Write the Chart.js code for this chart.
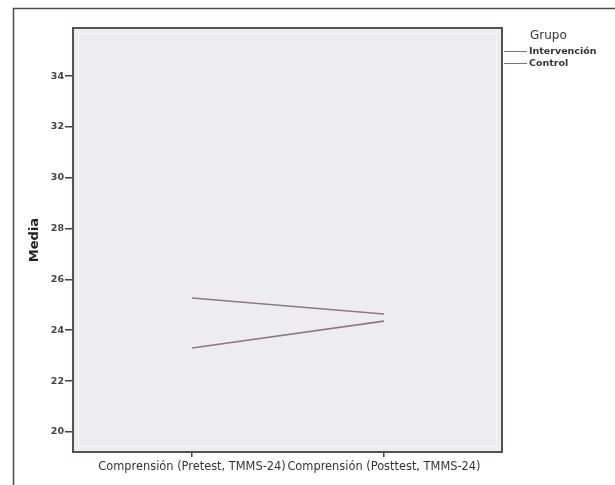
<!DOCTYPE html>
<html>
<head>
<meta charset="utf-8">
<style>
  html, body { margin: 0; padding: 0; background: #fff; }
  canvas { display: block; }
</style>
<script src="https://cdn.jsdelivr.net/npm/chart.js@4"></script>
</head>
<body>
<canvas id="chart" width="615" height="485"></canvas>
<script>
// Categories (x axis) and group means
const categories = ["Comprensión (Pretest, TMMS-24)", "Comprensión (Posttest, TMMS-24)"];
const intervencion = [25.27, 24.64];
const control = [23.30, 24.36];
const seriesNames = ["Intervención", "Control"];
const yTicks = [20, 22, 24, 26, 28, 30, 32, 34];

const LINE_COLOR = "#8c7b79";
const FONT = "'DejaVu Sans', sans-serif";

// Frame, plot background and legend drawn around the chart area
const framePlugin = {
    id: "frame",
    beforeDraw(chart) {
        const ctx = chart.ctx;
        const a = chart.chartArea;
        ctx.save();
        ctx.fillStyle = "#fff";
        ctx.fillRect(0, 0, chart.width, chart.height);
        // outer frame (top and left)
        ctx.strokeStyle = "#4a4a4a";
        ctx.lineWidth = 1.5;
        ctx.beginPath();
        ctx.moveTo(615, 8.5);
        ctx.lineTo(13.5, 8.5);
        ctx.lineTo(13.5, 485);
        ctx.stroke();
        // plot background
        ctx.fillStyle = "#ededef";
        ctx.fillRect(a.left, a.top, a.right - a.left, a.bottom - a.top);
        // faint inner edge
        ctx.strokeStyle = "#f8f8f8";
        ctx.lineWidth = 1;
        ctx.strokeRect(a.left + 5.5, a.top + 5.5, a.right - a.left - 11, a.bottom - a.top - 11);
        ctx.restore();
    },
    afterDraw(chart) {
        const ctx = chart.ctx;
        const a = chart.chartArea;
        ctx.save();
        ctx.strokeStyle = "#5a5050";
        ctx.lineWidth = 2;
        ctx.strokeRect(a.left, a.top, a.right - a.left, a.bottom - a.top);

        // legend
        ctx.fillStyle = "#333";
        ctx.textBaseline = "middle";
        ctx.font = "12px " + FONT;
        ctx.fillText("Grupo", 530, 36);
        ctx.font = "bold 9.5px " + FONT;
        seriesNames.forEach((name, i) => {
            const y = 51.5 + i * 12;
            ctx.strokeStyle = "#7a7272";
            ctx.lineWidth = 1;
            ctx.beginPath();
            ctx.moveTo(504, y);
            ctx.lineTo(527, y);
            ctx.stroke();
            ctx.fillText(name, 529, y);
        });
        ctx.restore();
    }
};

new Chart(document.getElementById("chart"), {
    type: "line",
    data: {
        datasets: [{
            label: seriesNames[0],
            data: intervencion.map((v, i) => ({ x: i, y: v })),
            borderColor: LINE_COLOR,
            borderWidth: 1.6,
            pointRadius: 0,
            fill: false
        }, {
            label: seriesNames[1],
            data: control.map((v, i) => ({ x: i, y: v })),
            borderColor: LINE_COLOR,
            borderWidth: 1.6,
            pointRadius: 0,
            fill: false
        }]
    },
    options: {
        responsive: false,
        animation: false,
        layout: {
            padding: { left: 13, top: 28, right: 113, bottom: 0 }
        },
        plugins: {
            legend: { display: false },
            tooltip: { enabled: false }
        },
        scales: {
            x: {
                type: "linear",
                min: -0.62,
                max: 1.615,
                afterBuildTicks: (scale) => {
                    scale.ticks = categories.map((c, i) => ({ value: i }));
                },
                afterFit: (scale) => { scale.height = 33; },
                border: { display: false },
                grid: {
                    drawOnChartArea: false,
                    drawTicks: true,
                    tickLength: 5,
                    color: "#4a4040",
                    lineWidth: 1.5
                },
                ticks: {
                    autoSkip: false,
                    maxRotation: 0,
                    padding: 3,
                    color: "#333",
                    font: { family: FONT, size: 11.4 },
                    callback: (v) => categories[v]
                }
            },
            y: {
                min: 19.21,
                max: 35.89,
                afterBuildTicks: (scale) => {
                    scale.ticks = yTicks.map(v => ({ value: v }));
                },
                afterFit: (scale) => { scale.width = 60; },
                border: { display: false },
                grid: {
                    drawOnChartArea: false,
                    drawTicks: true,
                    tickLength: 8,
                    color: "#4a4040",
                    lineWidth: 1.5
                },
                ticks: {
                    padding: 1,
                    color: "#444",
                    font: { family: FONT, size: 9.5, weight: "bold" }
                },
                title: {
                    display: true,
                    text: "Media",
                    color: "#222",
                    padding: { top: 14, bottom: 0 },
                    font: { family: FONT, size: 13, weight: "bold" }
                }
            }
        }
    },
    plugins: [framePlugin]
});
</script>
</body>
</html>
